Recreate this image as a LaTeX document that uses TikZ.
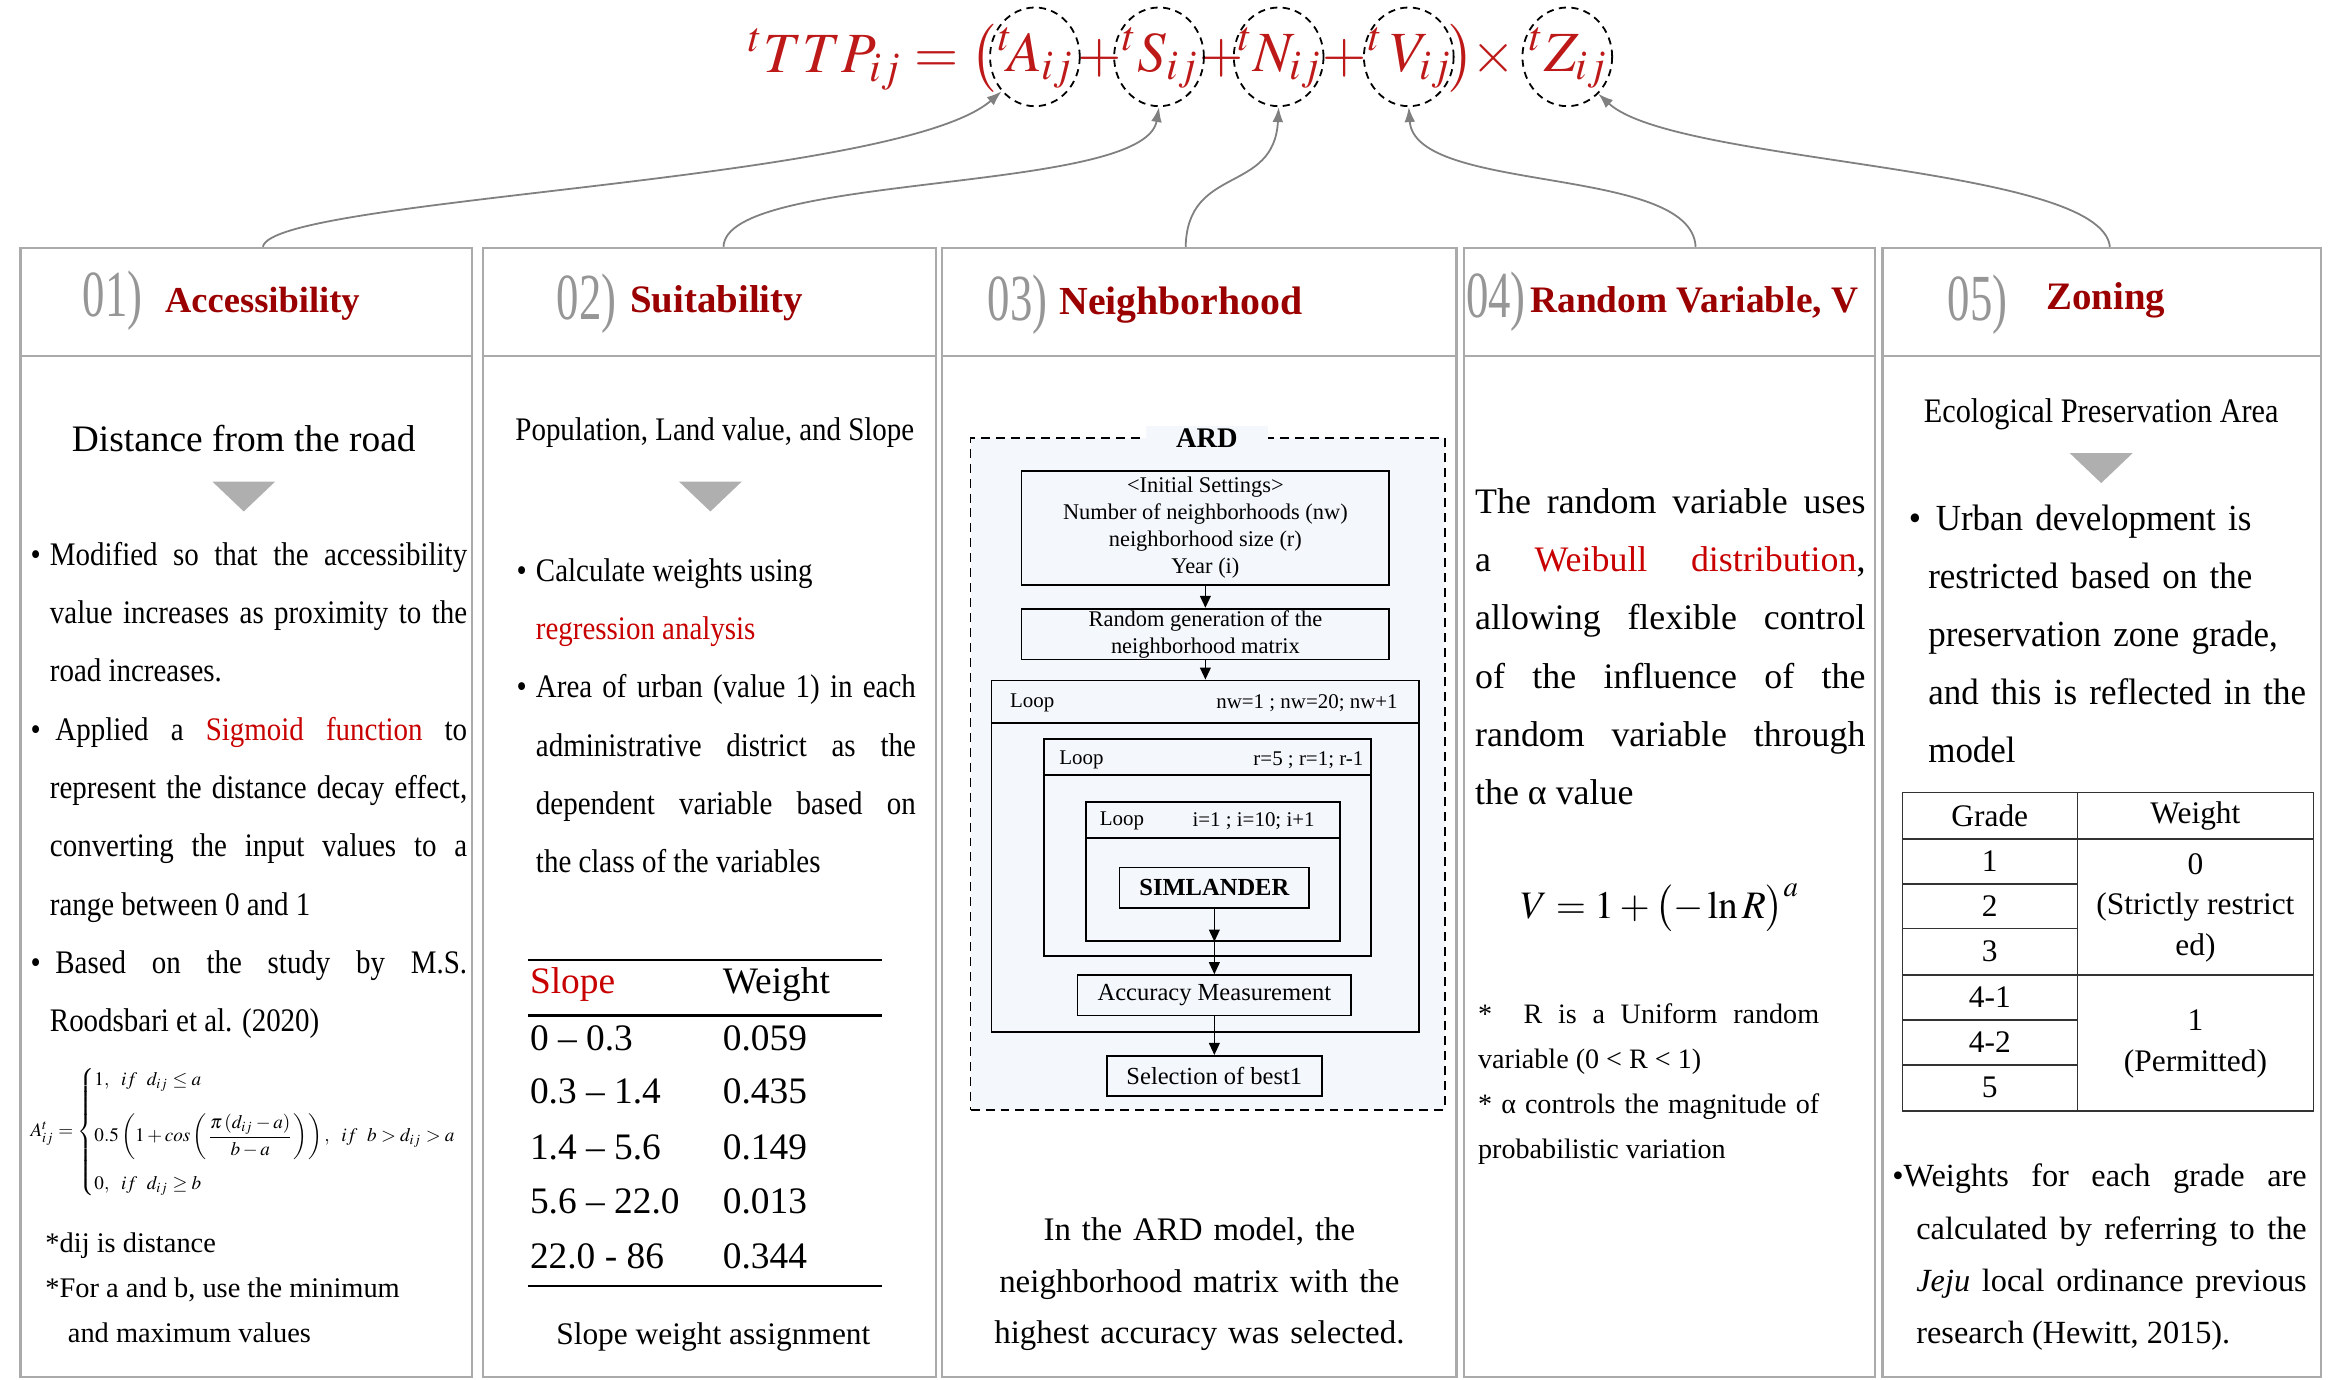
\documentclass[tikz,border=0pt]{standalone}
\usepackage{amsmath}
\usepackage{mathptmx}
\usepackage{fontspec}
\setmainfont{Liberation Serif}
\newfontfamily\cond[FakeStretch=0.88]{Liberation Serif}
\newfontfamily\condb[FakeStretch=0.95]{Liberation Serif}
\usetikzlibrary{arrows.meta,shapes.geometric}
\definecolor{hred}{RGB}{155,0,0}
\definecolor{tred}{RGB}{200,0,0}
\definecolor{fred}{RGB}{190,25,25}
\definecolor{pgray}{RGB}{170,170,170}
\definecolor{cgray}{RGB}{128,128,128}
\definecolor{numgray}{RGB}{150,150,150}
\definecolor{trigray}{RGB}{175,175,175}
\definecolor{ardfill}{RGB}{244,247,252}
\newcommand{\rd}[1]{\textcolor{tred}{#1}}
\newcommand{\bulpar}[1]{\noindent\hangindent=#1\hangafter=1\makebox[#1][l]{•}}
\newcommand{\numtxt}[1]{\scalebox{0.68}[1]{\fontsize{22}{22}\selectfont #1}}
\begin{document}
\begin{tikzpicture}[x=0.5pt,y=-0.5pt,
  panelbox/.style={draw=pgray, line width=0.8pt, anchor=north west, inner sep=0, minimum height=377.5pt},
  pline/.style={draw=pgray, line width=0.8pt},
  hnum/.style={anchor=west, text=numgray, inner sep=0},
  htitle/.style={anchor=west, text=hred, inner sep=0, font=\bfseries\fontsize{13}{13}\selectfont},
  link/.style={draw=cgray, line width=0.6pt, -{Latex[length=5pt,width=3.6pt]}},
  dell/.style={ellipse, draw=black, dash pattern=on 2.4pt off 1.8pt, line width=0.6pt, minimum width=30pt, minimum height=33pt, inner sep=0},
  fterm/.style={text=fred, inner sep=0, font=\fontsize{19}{19}\selectfont},
  para/.style={anchor=north west, inner sep=0, align=justify},
  ardbox/.style={draw=black, fill=ardfill, dash pattern=on 3pt off 2pt, line width=0.6pt, inner sep=0},
  fbox/.style={draw=black, fill=ardfill, line width=0.6pt, inner sep=0, align=center},
  flow/.style={draw=black, line width=0.5pt, -{Triangle[length=4pt,width=3.6pt]}},
  small/.style={inner sep=0, font=\fontsize{7}{7}\selectfont},
  trule/.style={draw=black, line width=0.8pt},
  tgrid/.style={draw=black!80, line width=0.5pt},
  tcell/.style={inner sep=0, font=\fontsize{10.5}{13.5}\selectfont, align=center}
]
\useasboundingbox (0,0) rectangle (1560,922.7);

% ---------- top formula ----------
\node[fterm, anchor=east] (f0) at (667,39) {$^{t}TTP_{ij}=\bigl($};
\node[fterm] (tA) at (693,39) {$^{t}\!A_{ij}$};
\node[fterm] (pl1) at (735,39) {$+$};
\node[fterm] (tS) at (776,39) {$^{t}S_{ij}$};
\node[fterm] (pl2) at (817,39) {$+$};
\node[fterm] (tN) at (856,39) {$^{t}N_{ij}$};
\node[fterm] (pl3) at (899,39) {$+$};
\node[fterm] (tV) at (943,39) {$^{t}\,V_{ij}$};
\node[fterm] (rp) at (977,39) {$\bigr)$};
\node[fterm] (tx) at (999,39) {$\times$};
\node[fterm] (tZ) at (1049,39) {$^{t}Z_{ij}$};
\node[dell] (eA) at (692,38) {};
\node[dell] (eS) at (775,38) {};
\node[dell] (eN) at (855,38) {};
\node[dell] (eV) at (942,38) {};
\node[dell] (eZ) at (1048,38) {};

% ---------- panels ----------
\node[panelbox, minimum width=151pt] (P1) at (13,165) {};
\node[panelbox, minimum width=151.5pt] (P2) at (322,165) {};
\node[panelbox, minimum width=172pt] (P3) at (629,165) {};
\node[panelbox, minimum width=137.5pt] (P4) at (978,165) {};
\node[panelbox, minimum width=146.5pt] (P5) at (1258,165) {};
\foreach \p in {P1,P2,P3,P4,P5}{
  \draw[pline] ([yshift=-36.5pt]\p.north west) -- ([yshift=-36.5pt]\p.north east);
}

% ---------- connectors ----------
\draw[link] ([xshift=5.5pt]P1.north) .. controls (182,132) and (600,122) .. (eA.226);
\draw[link] ([xshift=4.75pt]P2.north) .. controls (485,115) and (765,130) .. (eS.south);
\draw[link] ([xshift=-4.5pt]P3.north) .. controls (794,110) and (852,130) .. (eN.south);
\draw[link] ([xshift=8.75pt]P4.north) .. controls (1131,110) and (946,130) .. (eV.south);
\draw[link] ([xshift=2.75pt]P5.north) .. controls (1405,110) and (1120,110) .. (eZ.-50);

% ---------- headers ----------
\node[hnum] (n1) at (55,201) {\numtxt{01)}};
\node[htitle, font=\bfseries\fontsize{12.2}{12.2}\selectfont] (h1) at (110,203) {Accessibility};
\node[hnum] (n2) at (372,203) {\numtxt{02)}};
\node[htitle] (h2) at (421,203) {Suitability};
\node[hnum] (n3) at (660,204) {\numtxt{03)}};
\node[htitle, font=\bfseries\fontsize{13.3}{13.3}\selectfont] (h3) at (708,204) {Neighborhood};
\node[hnum] (n4) at (980,202) {\numtxt{04)}};
\node[htitle, font=\bfseries\fontsize{12.5}{12.5}\selectfont] (h4) at (1023,202) {Random Variable, V};
\node[hnum] (n5) at (1302,204) {\numtxt{05)}};
\node[htitle] (h5) at (1368,201) {Zoning};

% ---------- panel 1 ----------
\node[inner sep=0, font=\fontsize{12.5}{12.5}\selectfont] (p1h) at (163,293) {Distance from the road};
\fill[trigray] (142,322) -- (184,322) -- (163,342) -- cycle;
\node[para, text width=146pt, font=\cond\fontsize{11}{19.5}\selectfont] (p1b) at (20,362) {%
\bulpar{6.5pt}Modified so that the accessibility\linebreak value increases as proximity to the\linebreak road increases.\par
\bulpar{6.5pt}\,Applied a \rd{Sigmoid function} to\linebreak represent the distance decay effect,\linebreak converting the input values to a\linebreak range between 0 and 1\par
\bulpar{6.5pt}\,Based on the study by M.S.\linebreak Roodsbari et al. (2020)\par};
\node[anchor=west, inner sep=0, font=\fontsize{6.4}{7.5}\selectfont] (fa) at (20,757)
 {$A_{ij}^{t}=\begin{cases} 1,\ \ if\ \ d_{ij}\le a\\[7pt] 0.5\left(1+cos\left(\dfrac{\pi\,(d_{ij}-a)}{b-a}\right)\right),\ \ if\ \ b>d_{ij}>a\\[7pt] 0,\ \ if\ \ d_{ij}\ge b\end{cases}$};
\node[anchor=north west, inner sep=0, align=left, font=\fontsize{9.5}{15}\selectfont] (p1n) at (30,824)
 {*dij is distance\\*For a and b, use the minimum\\\hspace*{7.5pt}and maximum values};

% ---------- panel 2 ----------
\node[inner sep=0, font=\cond\fontsize{11}{11}\selectfont] (p2h) at (478,289) {Population, Land value, and Slope};
\fill[trigray] (454,322) -- (496,322) -- (475,342) -- cycle;
\node[para, text width=133.5pt, font=\cond\fontsize{11}{19.5}\selectfont] (p2b) at (345,373) {%
\bulpar{6.5pt}Calculate weights using\newline \rd{regression analysis}\par
\bulpar{6.5pt}Area of urban (value 1) in each\linebreak administrative district as the\linebreak dependent variable based on\linebreak the class of the variables\par};
\draw[trule] (353,642) -- (590,642);
\draw[trule] (353,679) -- (590,679);
\draw[trule] (353,860) -- (590,860);
\begin{scope}[every node/.style={anchor=west, inner sep=0, font=\fontsize{12.5}{12.5}\selectfont}]
\node[text=tred] (sh) at (354,658) {Slope};
\node (wh) at (483,658) {Weight};
\node (s1) at (354,694) {0 – 0.3};
\node (s2) at (354,730) {0.3 – 1.4};
\node (s3) at (354,767) {1.4 – 5.6};
\node (s4) at (354,803) {5.6 – 22.0};
\node (s5) at (354,840) {22.0 - 86};
\node (w1) at (483,694) {0.059};
\node (w2) at (483,730) {0.435};
\node (w3) at (483,767) {0.149};
\node (w4) at (483,803) {0.013};
\node (w5) at (483,840) {0.344};
\end{scope}
\node[inner sep=0, font=\fontsize{10.5}{10.5}\selectfont] (p2c) at (477,894) {Slope weight assignment};

% ---------- panel 3 : ARD ----------
\node[ardbox, minimum width=158.5pt, minimum height=224.5pt] (ard) at (807.5,517.5) {};
\node[fill=ardfill, inner xsep=10pt, inner ysep=1pt, font=\bfseries\fontsize{9.5}{9.5}\selectfont] (ardl) at (807,293) {ARD};
\node[fbox, minimum width=123pt, minimum height=38pt, font=\fontsize{7.5}{9}\selectfont] (init) at (806,353)
 {<Initial Settings>\\Number of neighborhoods (nw)\\neighborhood size (r)\\Year (i)};
\node[fbox, minimum width=123pt, minimum height=17pt, font=\fontsize{7.5}{9}\selectfont] (rand) at (806,424)
 {Random generation of the\\neighborhood matrix};
\node[fbox, minimum width=143pt, minimum height=117.5pt] (L1) at (806,572.5) {};
\draw[black, line width=0.6pt] ([yshift=-14.5pt]L1.north west) -- ([yshift=-14.5pt]L1.north east);
\node[small, anchor=west] (L1a) at (675,470) {Loop};
\node[small, anchor=east] (L1b) at (935,470) {nw=1 ; nw=20; nw+1};
\node[fbox, minimum width=109.5pt, minimum height=72.5pt] (L2) at (807.5,566.5) {};
\draw[black, line width=0.6pt] ([yshift=-12.5pt]L2.north west) -- ([yshift=-12.5pt]L2.north east);
\node[small, anchor=west] (L2a) at (708,508) {Loop};
\node[small, anchor=east] (L2b) at (912,508) {r=5 ; r=1; r-1};
\node[fbox, minimum width=85pt, minimum height=46.5pt] (L3) at (811,582.5) {};
\draw[black, line width=0.6pt] ([yshift=-12.5pt]L3.north west) -- ([yshift=-12.5pt]L3.north east);
\node[small, anchor=west] (L3a) at (735,549) {Loop};
\node[small, anchor=west] (L3b) at (797,549) {i=1 ; i=10; i+1};
\node[fbox, minimum width=63.5pt, minimum height=13.5pt, font=\bfseries\fontsize{8.2}{8.2}\selectfont] (sim) at (812,593.5) {SIMLANDER};
\node[fbox, minimum width=91.5pt, minimum height=13.5pt, font=\fontsize{8.2}{8.2}\selectfont] (acc) at (812,665.5) {Accuracy Measurement};
\node[fbox, minimum width=72pt, minimum height=13.5pt, font=\fontsize{8.2}{8.2}\selectfont] (sel) at (812,719.5) {Selection of best1};
\coordinate (l3b) at (sim.south |- L3.south);
\draw[flow] (init.south) -- (rand.north);
\draw[flow] (rand.south) -- (rand.south |- L1.north);
\draw[flow] (sim.south) -- (l3b);
\draw[flow] (l3b) -- (acc.north);
\draw[flow] (acc.south) -- (sel.north);
\node[anchor=north, inner sep=0, text width=160pt, align=center, font=\fontsize{11}{17.25}\selectfont] (p3c) at (802,814)
 {In the ARD model, the\\neighborhood matrix with the\\highest accuracy was selected.};

% ---------- panel 4 ----------
\node[para, text width=130.5pt, font=\fontsize{12}{19.5}\selectfont] (p4b) at (986,326) {%
\noindent The random variable uses\linebreak a \rd{Weibull distribution},\linebreak allowing flexible control\linebreak of the influence of the\linebreak random variable through\linebreak the α value\par};
\node[inner sep=0, font=\fontsize{13}{13}\selectfont] (vf) at (1110,607) {$V=1+\bigl(-\ln R\bigr)^{a}$};
\node[para, text width=114pt, font=\fontsize{9.4}{15}\selectfont] (p4n) at (988,671) {%
\noindent *\ \ R is a Uniform random\linebreak variable (0 < R < 1)\par
\noindent * α controls the magnitude of\linebreak probabilistic variation\par};

% ---------- panel 5 ----------
\node[inner sep=0, font=\cond\fontsize{11.5}{11.5}\selectfont] (p5h) at (1405,277) {Ecological Preservation Area};
\fill[trigray] (1384,303) -- (1426,303) -- (1405,323) -- cycle;
\node[anchor=north west, inner sep=0, text width=160pt, align=left, font=\condb\fontsize{12.3}{19.4}\selectfont] (p5b) at (1276,337) {%
\noindent\hangindent=6.5pt\hangafter=1\makebox[9pt][l]{•}Urban development is\newline restricted based on the\newline preservation zone grade,\newline and this is reflected in the\newline model\par};
% table
\draw[tgrid] (1272,530) rectangle (1547,743);
\draw[tgrid] (1389,530) -- (1389,743);
\draw[tgrid] (1272,561) -- (1547,561);
\draw[tgrid] (1272,652) -- (1547,652);
\foreach \yy in {591,621,682,712}{ \draw[tgrid] (1272,\yy) -- (1389,\yy); }
\node[tcell] (gh) at (1330.5,545.5) {Grade};
\node[tcell] (wgh) at (1468,545.5) {Weight};
\node[tcell] (g1) at (1330.5,576) {1};
\node[tcell] (g2) at (1330.5,606) {2};
\node[tcell] (g3) at (1330.5,636) {3};
\node[tcell] (g4) at (1330.5,667) {4-1};
\node[tcell] (g5) at (1330.5,697) {4-2};
\node[tcell] (g6) at (1330.5,727) {5};
\node[tcell] (wg0) at (1468,607) {0\\(Strictly restrict\\ed)};
\node[tcell] (wg1) at (1468,698) {1\\(Permitted)};
\node[para, text width=138.5pt, font=\fontsize{10.8}{17.5}\selectfont] (p5c) at (1265,778) {%
\noindent\hangindent=8pt\hangafter=1 •Weights for each grade are\linebreak calculated by referring to the\linebreak \textit{Jeju} local ordinance previous\linebreak research (Hewitt, 2015).\par};
\end{tikzpicture}
\end{document}
